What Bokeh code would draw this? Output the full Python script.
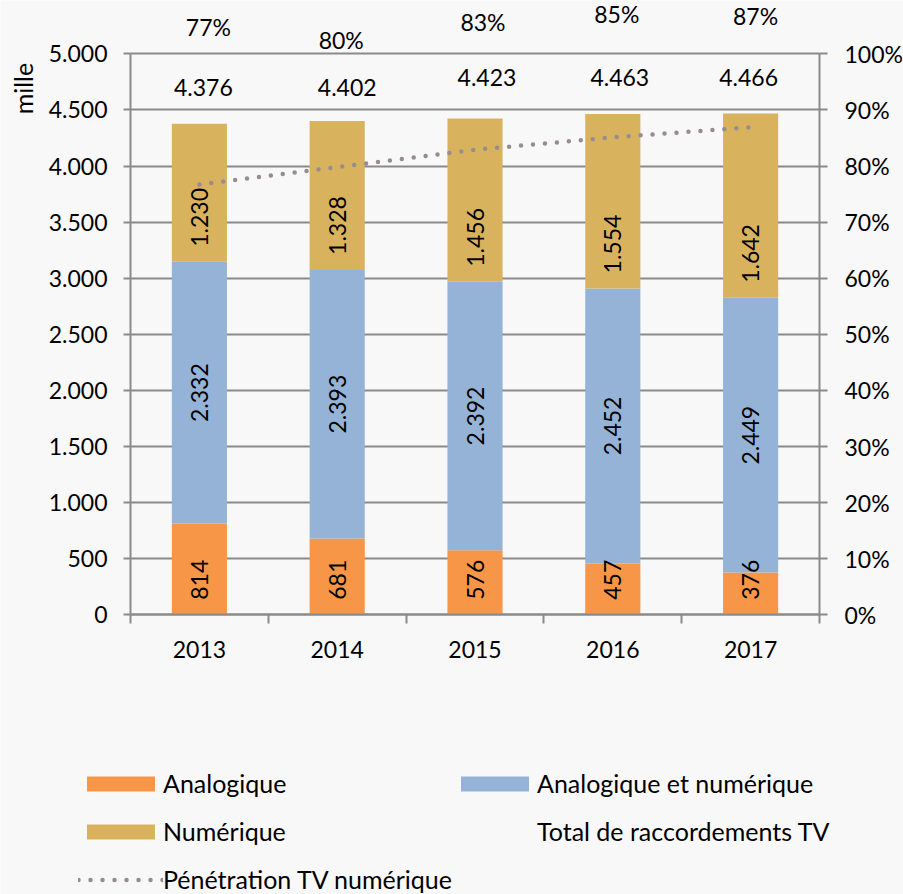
import math
from bokeh.plotting import figure
from bokeh.models import (Range1d, LinearAxis, FixedTicker, ColumnDataSource,
                          LabelSet, Legend, LegendItem, Grid)
from bokeh.core.properties import value
from bokeh.embed import file_html
from bokeh.resources import INLINE

# ---------------- data ----------------
years = ["2013", "2014", "2015", "2016", "2017"]
analogique = [814, 681, 576, 457, 376]
analog_num = [2332, 2393, 2392, 2452, 2449]
numerique = [1230, 1328, 1456, 1554, 1642]
totaux = [4376, 4402, 4423, 4463, 4466]
penetration = [76.7, 79.8, 82.9, 85.1, 86.9]
left_ticks = list(range(0, 5001, 500))
right_ticks = list(range(0, 101, 10))
unit_label = "mille"

# ---------------- label layout ----------------
pct_label_y = [104.7, 102.5, 105.6, 107.1, 106.7]
pct_label_dx = [9, 4, 8, 4, 5]
total_label_y = [4700, 4700, 4789, 4789, 4789]
total_label_dx = [4, 10, 12, 7, -2]
unit_label_pos = (-0.777, 4690)

# ---------------- page layout (pixels) ----------------
W, H = 903, 894
AX_L, AX_R = 130, 819          # left / right axis x
AX_B, AX_T = 614.3, 53.3       # y of 0 and of 5000
n = len(years)
YMAX = 5000
px_x = (AX_R - AX_L) / n
px_y = (AX_B - AX_T) / YMAX
x_start = -AX_L / px_x
x_end = n + (W - AX_R) / px_x
y_start = -(H - AX_B) / px_y
y_end = YMAX + AX_T / px_y
PCT_SCALE = 100 / YMAX
inside_base_pad = 15 / px_y    # ~15 px above the segment base

FONT = "Lato"
FS = "23px"       # numbers
FS_TXT = "25px"   # words
C_ORANGE = "#F79646"
C_BLUE = "#95B3D7"
C_GOLD = "#D9B25E"
C_LINE = "#998c8f"
C_AXIS = "#8a8a8a"
BG = "#f8f8f8"


def fmt(v):
    return f"{int(v):,}".replace(",", ".")


xc = [i + 0.5 for i in range(n)]
b1 = [0] * n
t1 = analogique
b2 = t1
t2 = [a + b for a, b in zip(analogique, analog_num)]
b3 = t2
t3 = [a + b for a, b in zip(t2, numerique)]

p = figure(frame_width=W, frame_height=H,
           x_range=Range1d(x_start, x_end), y_range=Range1d(y_start, y_end),
           output_backend="svg", toolbar_location=None,
           min_border_left=0, min_border_right=0,
           min_border_top=0, min_border_bottom=0)
p.extra_y_ranges = {"pct": Range1d(y_start * PCT_SCALE, y_end * PCT_SCALE)}
p.background_fill_color = BG
p.border_fill_color = BG
p.outline_line_color = None

# grid lines (between the two axes)
p.xgrid.visible = False
p.ygrid.visible = False
grid = Grid(dimension=1, ticker=FixedTicker(ticks=left_ticks),
            grid_line_color=C_AXIS, grid_line_width=2)
if "cross_bounds" in Grid.properties():
    grid.cross_bounds = (0, n)
    p.add_layout(grid, "center")
else:
    p.segment(x0=[0] * len(left_ticks), x1=[n] * len(left_ticks),
              y0=left_ticks, y1=left_ticks, line_color=C_AXIS, line_width=2)

src = ColumnDataSource(dict(x=xc, b1=b1, t1=t1, b2=b2, t2=t2, b3=b3, t3=t3,
                            pen=penetration, tot=totaux))

r1 = p.vbar(x="x", bottom="b1", top="t1", width=0.4, source=src,
            fill_color=C_ORANGE, line_color=None)
r2 = p.vbar(x="x", bottom="b2", top="t2", width=0.4, source=src,
            fill_color=C_BLUE, line_color=None)
r3 = p.vbar(x="x", bottom="b3", top="t3", width=0.4, source=src,
            fill_color=C_GOLD, line_color=None)
rtot = p.line(x="x", y="tot", source=src, line_alpha=0)
rline = p.line(x="x", y="pen", source=src, y_range_name="pct",
               line_color=C_LINE, line_width=4.5, line_dash="0 12",
               line_cap="round")

# inside-bar labels
lab_src = ColumnDataSource(dict(
    x=xc * 3,
    y=[b + inside_base_pad for b in b1] + [(a + b) / 2 for a, b in zip(b2, t2)]
      + [b + inside_base_pad for b in b3],
    text=[fmt(v) for v in analogique] + [fmt(v) for v in analog_num]
         + [fmt(v) for v in numerique],
    align=["left"] * n + ["center"] * n + ["left"] * n,
))
p.text(x="x", y="y", text="text", source=lab_src, angle=math.pi / 2,
       text_align="align", text_baseline="middle",
       text_font=value(FONT), text_font_size=FS, text_color="black")

# unit label
p.text(x=[unit_label_pos[0]], y=[unit_label_pos[1]], text=[unit_label],
       angle=math.pi / 2, text_align="center", text_baseline="middle",
       text_font=value(FONT), text_font_size=FS_TXT, text_color="black")

# totals above bars
tot_src = ColumnDataSource(dict(x=xc, y=total_label_y, dx=total_label_dx,
                                text=[fmt(v) for v in totaux]))
p.add_layout(LabelSet(x="x", y="y", text="text", x_offset="dx", source=tot_src,
                      text_align="center", text_baseline="middle",
                      text_font=value(FONT), text_font_size=FS,
                      text_color="black"))

# penetration labels
pct_src = ColumnDataSource(dict(x=xc, y=pct_label_y, dx=pct_label_dx,
                                text=[f"{round(v)}%" for v in penetration]))
p.add_layout(LabelSet(x="x", y="y", text="text", x_offset="dx", source=pct_src,
                      y_range_name="pct", text_align="center",
                      text_baseline="middle", text_font=value(FONT),
                      text_font_size=FS, text_color="black"))

# axes
xa = p.xaxis[0]
xa.fixed_location = 0
xa.bounds = (0, n)
xa.ticker = FixedTicker(ticks=xc, minor_ticks=list(range(n + 1)))
xa.major_label_overrides = {x: y for x, y in zip(xc, years)}
xa.major_tick_out = 0
xa.major_tick_in = 0
xa.minor_tick_out = 9
xa.minor_tick_in = 0
xa.minor_tick_line_color = C_AXIS
xa.minor_tick_line_width = 2
xa.axis_line_color = C_AXIS
xa.axis_line_width = 2
xa.major_label_standoff = 17

ya = p.yaxis[0]
ya.fixed_location = 0
ya.bounds = (0, YMAX)
ya.ticker = FixedTicker(ticks=left_ticks)
ya.major_label_overrides = {t: fmt(t) for t in left_ticks}
ya.major_tick_out = 7
ya.major_tick_in = 0
ya.minor_tick_line_color = None
ya.major_tick_line_color = C_AXIS
ya.major_tick_line_width = 2
ya.axis_line_color = C_AXIS
ya.axis_line_width = 2
ya.major_label_standoff = 16

ra = LinearAxis(y_range_name="pct", ticker=FixedTicker(ticks=right_ticks),
                fixed_location=n, bounds=(0, 100))
ra.major_label_overrides = {t: f"{t}%" for t in right_ticks}
ra.major_tick_out = 8
ra.major_tick_in = 0
ra.minor_tick_line_color = None
ra.major_tick_line_color = C_AXIS
ra.major_tick_line_width = 2
ra.axis_line_color = C_AXIS
ra.axis_line_width = 2
ra.major_label_standoff = 17
p.add_layout(ra, "right")

for ax in (xa, ya, ra):
    ax.major_label_text_font = FONT
    ax.major_label_text_font_size = FS
    ax.major_label_text_color = "black"

legend = Legend(items=[
    LegendItem(label="Analogique", renderers=[r1]),
    LegendItem(label="Numérique", renderers=[r3]),
    LegendItem(label="Pénétration TV numérique", renderers=[rline]),
    LegendItem(label="Analogique et numérique", renderers=[r2]),
    LegendItem(label="Total de raccordements TV", renderers=[rtot]),
], location=(78, -9), orientation="vertical", nrows=3)
legend.glyph_width = 85
legend.glyph_height = 19
legend.label_height = 48
legend.label_standoff = 0
legend.spacing = 0
legend.padding = 0
legend.margin = 0
legend.border_line_alpha = 0
legend.background_fill_alpha = 0
legend.label_text_font = FONT
legend.label_text_font_size = FS_TXT
legend.label_text_color = "black"
p.add_layout(legend, "center")

open("out.html", "w").write(file_html(p, INLINE))
